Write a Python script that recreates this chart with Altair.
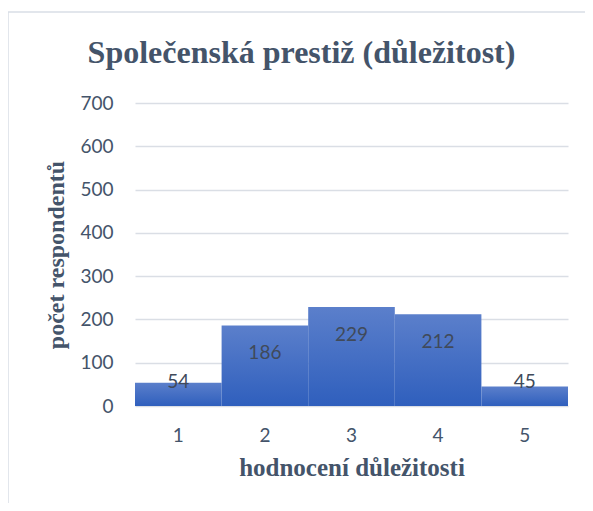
import altair as alt
import pandas as pd

categories = ["1", "2", "3", "4", "5"]
counts = [54, 186, 229, 212, 45]
y_ticks = [0, 100, 200, 300, 400, 500, 600, 700]

df = pd.DataFrame({"cat": categories, "v": counts})

TEXT = "#44546a"
GRID = "#dadee5"
FRAME = "#d9dee6"

gradient = alt.Gradient(
    gradient="linear",
    stops=[alt.GradientStop(color="#5b7fcb", offset=0),
           alt.GradientStop(color="#2f5fbd", offset=1)],
    x1=0, x2=0, y1=0, y2=1,
)

base = alt.Chart(df)

x_enc = alt.X(
    "cat:N",
    sort=categories,
    scale=alt.Scale(paddingInner=0, paddingOuter=0),
    axis=alt.Axis(
        title="hodnocení důležitosti",
        labelAngle=0,
        labelFont="Lato",
        labelFontSize=19,
        labelColor=TEXT,
        labelPadding=20,
        ticks=False,
        domain=False,
        titleFont="Liberation Serif",
        titleFontSize=25,
        titleFontWeight="bold",
        titleColor=TEXT,
        titlePadding=10,
    ),
)

bars = base.mark_bar(color=gradient, stroke=None).encode(
    x=x_enc,
    y=alt.Y(
        "v:Q",
        scale=alt.Scale(domain=[0, 700], nice=False),
        axis=alt.Axis(
            title="počet respondentů",
            values=y_ticks,
            labelFont="Lato",
            labelFontSize=19,
            labelColor=TEXT,
            labelPadding=22,
            ticks=False,
            domain=False,
            grid=True,
            gridColor=GRID,
            gridWidth=1.6,
            titleFont="Liberation Serif",
            titleFontSize=24,
            titleFontWeight="bold",
            titleColor=TEXT,
            titleX=-79,
            titleBaseline="middle",
        ),
    ),
)

labels = base.transform_calculate(
    ly="max(datum.v - 64, 56)"
).mark_text(font="Lato", fontSize=19, color="#404a5a", baseline="middle").encode(
    x=alt.X("cat:N", sort=categories),
    y=alt.Y("ly:Q"),
    text=alt.Text("v:Q"),
)

one = base.transform_filter("datum.cat == '1'")
frame_left = one.mark_rule(color=FRAME, strokeWidth=1.5).encode(
    x=alt.value(-127), y=alt.value(-91), y2=alt.value(400),
)
frame_top = one.mark_rule(color=FRAME, strokeWidth=1.5).encode(
    x=alt.value(-127), x2=alt.value(450), y=alt.value(-91),
)

chart = alt.layer(frame_left, frame_top, bars, labels).properties(
    width=433,
    height=303,
    padding={"left": 127, "top": 95, "right": 17, "bottom": 97},
    autosize=alt.AutoSizeParams(type="none"),
    title=alt.TitleParams(
        text="Společenská prestiž (důležitost)",
        font="Liberation Serif",
        fontSize=32,
        fontWeight="bold",
        color=TEXT,
        anchor="middle",
        dx=-50,
        offset=0,
        dy=59,
    ),
).configure_view(stroke=None)

chart.save("out.html", embed_options={"renderer": "svg", "actions": False})
